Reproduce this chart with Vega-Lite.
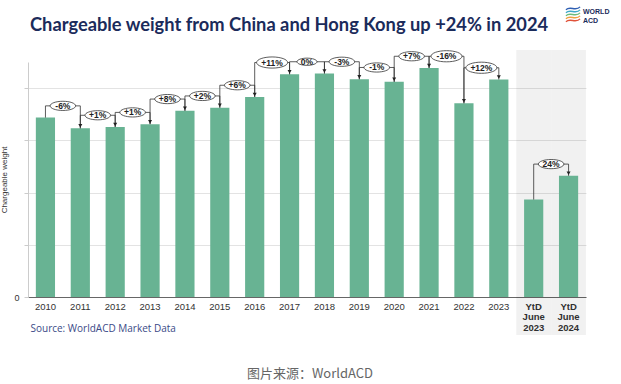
{
  "$schema": "https://vega.github.io/schema/vega-lite/v6.json",
  "autosize": {"type": "none"},
  "width": 558,
  "height": 235,
  "padding": {"left": 28, "top": 62, "right": 35, "bottom": 87},
  "background": "white",
  "config": {"view": {"stroke": null}, "font": "Liberation Sans"},
  "title": {
    "text": "Chargeable weight from China and Hong Kong up +24% in 2024",
    "anchor": "start",
    "frame": "group",
    "dx": 2,
    "offset": -31,
    "font": "Lato",
    "fontSize": 18.3,
    "fontWeight": "bold",
    "color": "#1b2b5b"
  },
  "datasets": {
    "bars": [
      {"cat": "2010", "value": 6.87},
      {"cat": "2011", "value": 6.46},
      {"cat": "2012", "value": 6.51},
      {"cat": "2013", "value": 6.62},
      {"cat": "2014", "value": 7.13},
      {"cat": "2015", "value": 7.25},
      {"cat": "2016", "value": 7.66},
      {"cat": "2017", "value": 8.53},
      {"cat": "2018", "value": 8.56},
      {"cat": "2019", "value": 8.34},
      {"cat": "2020", "value": 8.24},
      {"cat": "2021", "value": 8.77},
      {"cat": "2022", "value": 7.42},
      {"cat": "2023", "value": 8.33},
      {"cat": "YtD June 2023", "value": 3.73},
      {"cat": "YtD June 2024", "value": 4.64}
    ],
    "changes": [
      {"from": "2010", "to": "2011", "pct": "-6%"},
      {"from": "2011", "to": "2012", "pct": "+1%"},
      {"from": "2012", "to": "2013", "pct": "+1%"},
      {"from": "2013", "to": "2014", "pct": "+8%"},
      {"from": "2014", "to": "2015", "pct": "+2%"},
      {"from": "2015", "to": "2016", "pct": "+6%"},
      {"from": "2016", "to": "2017", "pct": "+11%"},
      {"from": "2017", "to": "2018", "pct": "0%"},
      {"from": "2018", "to": "2019", "pct": "-3%"},
      {"from": "2019", "to": "2020", "pct": "-1%"},
      {"from": "2020", "to": "2021", "pct": "+7%"},
      {"from": "2021", "to": "2022", "pct": "-16%"},
      {"from": "2022", "to": "2023", "pct": "+12%"},
      {"from": "YtD June 2023", "to": "YtD June 2024", "pct": "24%"}
    ],
    "notes": [{"caption": "图片来源：WorldACD"}]
  },
  "layer": [
    {
      "data": {"name": "bars"},
      "transform": [{"filter": "indexof(datum.cat, 'YtD') == 0"}],
      "mark": {"type": "bar", "width": {"band": 1.818}, "color": "#000", "opacity": 0.055, "clip": false},
      "encoding": {
        "x": {
          "field": "cat", "type": "nominal",
          "scale": {
            "domain": ["2010", "2011", "2012", "2013", "2014", "2015", "2016", "2017", "2018", "2019", "2020", "2021", "2022", "2023", "YtD June 2023", "YtD June 2024"],
            "paddingInner": 0.45, "paddingOuter": 0.225
          },
          "axis": {
            "title": "Source: WorldACD Market Data",
            "titleAnchor": "start",
            "titleAlign": "left",
            "titleX": 2,
            "titleY": 31,
            "titleBaseline": "middle",
            "titleColor": "#3b4a87",
            "titleFont": "Open Sans",
            "titleFontSize": 10,
            "titleFontWeight": "normal",
            "labelAngle": 0,
            "labelFontSize": 9.5,
            "labelColor": "#333",
            "labelPadding": 4,
            "labelLineHeight": 10.5,
            "labelExpr": "indexof(datum.label, 'YtD') == 0 ? split(datum.label, ' ') : datum.label",
            "labelFontWeight": {"condition": {"test": "indexof(datum.label, 'YtD') == 0", "value": "bold"}, "value": "normal"},
            "ticks": false,
            "domainColor": "#666",
            "domainWidth": 1,
            "grid": false
          }
        },
        "y": {"datum": 9.46, "type": "quantitative"},
        "y2": {"datum": -1.46}
      }
    },
    {
      "data": {"name": "bars"},
      "mark": {"type": "bar", "color": "#68b393"},
      "encoding": {
        "x": {"field": "cat", "type": "nominal"},
        "y": {
          "field": "value", "type": "quantitative",
          "scale": {"domain": [0, 9], "nice": false},
          "axis": {
            "title": "Chargeable weight",
            "titleFontSize": 8,
            "titleFontWeight": "normal",
            "titleColor": "#333",
            "titlePadding": 5,
            "values": [0, 1, 2, 3, 4, 5, 6, 7, 8, 9],
            "labelExpr": "datum.value == 0 ? '0' : ''",
            "labelFontSize": 9,
            "labelColor": "#333",
            "labelPadding": 5,
            "grid": true,
            "gridColor": "#e3e3e3",
            "domainColor": "#cccccc",
            "tickColor": "#cccccc",
            "tickSize": 4
          }
        }
      }
    },
    {
      "data": {"name": "changes"},
      "transform": [
        {"lookup": "from", "from": {"data": {"name": "bars"}, "key": "cat", "fields": ["value"]}, "as": ["v1"]},
        {"lookup": "to", "from": {"data": {"name": "bars"}, "key": "cat", "fields": ["value"]}, "as": ["v2"]},
        {"calculate": "max(datum.v1, datum.v2) + 0.45", "as": "level"},
        {"calculate": "pow(5.5 * length(datum.pct) + 9, 2)", "as": "esize"}
      ],
      "layer": [
        {
          "mark": {"type": "rule", "color": "#333", "strokeWidth": 0.8},
          "encoding": {
            "x": {"field": "from", "type": "nominal"},
            "y": {"field": "v1", "type": "quantitative"},
            "y2": {"field": "level"}
          }
        },
        {
          "mark": {"type": "rule", "color": "#333", "strokeWidth": 0.8},
          "encoding": {
            "x": {"field": "to", "type": "nominal"},
            "y": {"field": "level", "type": "quantitative"},
            "y2": {"field": "v2"}
          }
        },
        {
          "mark": {"type": "rule", "color": "#333", "strokeWidth": 0.8},
          "encoding": {
            "x": {"field": "from", "type": "nominal", "bandPosition": 0.5},
            "x2": {"field": "to", "bandPosition": 0.5},
            "y": {"field": "level", "type": "quantitative"}
          }
        },
        {
          "mark": {"type": "point", "shape": "triangle-down", "filled": true, "color": "#222", "size": 16, "opacity": 1, "yOffset": -2.5},
          "encoding": {
            "x": {"field": "to", "type": "nominal"},
            "y": {"field": "v2", "type": "quantitative"}
          }
        },
        {
          "mark": {"type": "point", "shape": "M-1,0A1,0.36,0,1,1,1,0A1,0.36,0,1,1,-1,0Z", "filled": true, "fill": "white", "stroke": "#333", "strokeWidth": 0.8, "opacity": 1},
          "encoding": {
            "x": {"field": "from", "type": "nominal", "bandPosition": 1.409},
            "y": {"field": "level", "type": "quantitative"},
            "size": {"field": "esize", "type": "quantitative", "scale": null, "legend": null}
          }
        },
        {
          "mark": {"type": "text", "fontSize": 8.5, "fontWeight": "bold", "color": "#222", "baseline": "middle", "align": "center"},
          "encoding": {
            "x": {"field": "from", "type": "nominal", "bandPosition": 1.409},
            "y": {"field": "level", "type": "quantitative"},
            "text": {"field": "pct"}
          }
        }
      ]
    },
    {
      "data": {"name": "notes"},
      "layer": [
        {
          "mark": {"type": "text", "fontSize": 13, "color": "#666", "font": "Noto Sans CJK SC", "align": "center", "baseline": "middle"},
          "encoding": {"x": {"value": 282}, "y": {"value": 312}, "text": {"field": "caption"}}
        },
        {
          "mark": {"type": "text", "fontSize": 7, "fontWeight": "bold", "color": "#1b2b5b", "align": "left", "baseline": "middle", "lineHeight": 8.5},
          "encoding": {"x": {"value": 555}, "y": {"value": -50}, "text": {"value": ["WORLD", "ACD"]}}
        },
        {
          "mark": {"type": "point", "shape": "M-1,0.1C-0.4,-0.5,0.4,0.4,1,-0.3", "filled": false, "stroke": "#2f5fb3", "strokeWidth": 1.3, "opacity": 1, "size": 200, "yOffset": -6},
          "encoding": {"x": {"value": 545}, "y": {"value": -47}}
        },
        {
          "mark": {"type": "point", "shape": "M-1,0.1C-0.4,-0.5,0.4,0.4,1,-0.3", "filled": false, "stroke": "#3fa9c9", "strokeWidth": 1.3, "opacity": 1, "size": 200, "yOffset": -3},
          "encoding": {"x": {"value": 545}, "y": {"value": -47}}
        },
        {
          "mark": {"type": "point", "shape": "M-1,0.1C-0.4,-0.5,0.4,0.4,1,-0.3", "filled": false, "stroke": "#6dbb7a", "strokeWidth": 1.3, "opacity": 1, "size": 200, "yOffset": 0},
          "encoding": {"x": {"value": 545}, "y": {"value": -47}}
        },
        {
          "mark": {"type": "point", "shape": "M-1,0.1C-0.4,-0.5,0.4,0.4,1,-0.3", "filled": false, "stroke": "#f0a040", "strokeWidth": 1.3, "opacity": 1, "size": 200, "yOffset": 3},
          "encoding": {"x": {"value": 545}, "y": {"value": -47}}
        },
        {
          "mark": {"type": "point", "shape": "M-1,0.1C-0.4,-0.5,0.4,0.4,1,-0.3", "filled": false, "stroke": "#e0523a", "strokeWidth": 1.3, "opacity": 1, "size": 200, "yOffset": 6},
          "encoding": {"x": {"value": 545}, "y": {"value": -47}}
        }
      ]
    }
  ]
}
